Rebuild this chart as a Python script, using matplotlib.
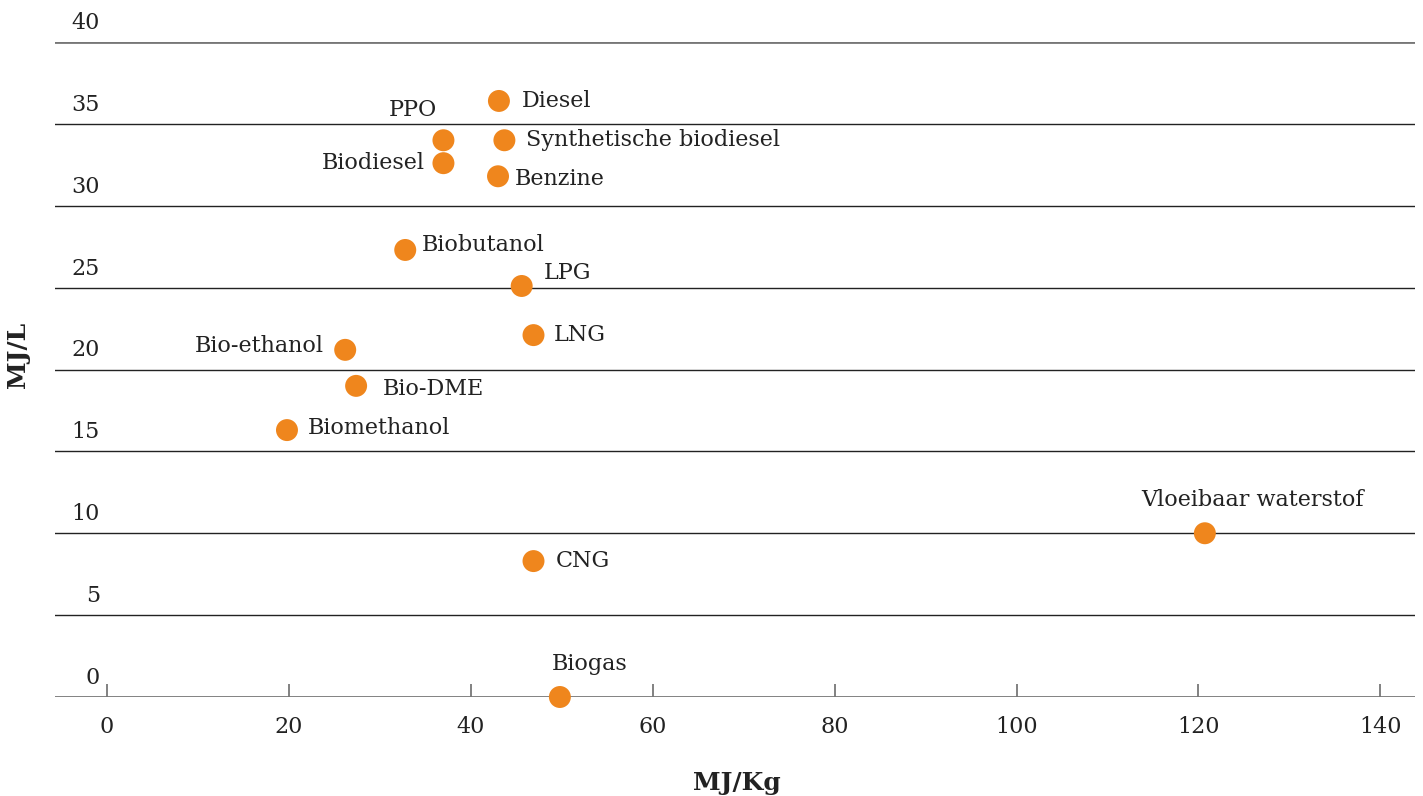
import matplotlib.pyplot as plt

# energy density per fuel
fuels = ["Diesel", "PPO", "Synthetische biodiesel", "Biodiesel", "Benzine",
         "Biobutanol", "LPG", "LNG", "Bio-ethanol", "Bio-DME", "Biomethanol",
         "Vloeibaar waterstof", "CNG", "Biogas"]
mj_kg = [43.1, 37.0, 43.7, 37.0, 43.0, 32.8, 45.6, 46.9, 26.2, 27.4, 19.8,
         120.7, 46.9, 49.8]
mj_l = [36.4, 34.0, 34.0, 32.6, 31.8, 27.3, 25.1, 22.1, 21.2, 19.0, 16.3,
        10.0, 8.3, 0.0]

x_ticks = [0, 20, 40, 60, 80, 100, 120, 140]
y_ticks = [0, 5, 10, 15, 20, 25, 30, 35, 40]

# label placement: (dx px, dy px, ha)
label_pos = {
    "Diesel": (23, 0, "left"),
    "PPO": (-31, 30, "center"),
    "Synthetische biodiesel": (22, 0, "left"),
    "Biodiesel": (-19, 0, "right"),
    "Benzine": (17, -3, "left"),
    "Biobutanol": (17, 5, "left"),
    "LPG": (22, 13, "left"),
    "LNG": (20, 0, "left"),
    "Bio-ethanol": (-21, 4, "right"),
    "Bio-DME": (27, -3, "left"),
    "Biomethanol": (21, 2, "left"),
    "Vloeibaar waterstof": (48, 33, "center"),
    "CNG": (22, 0, "left"),
    "Biogas": (30, 33, "center"),
}

orange = "#EF861D"
txt = "#222222"
font = "DejaVu Serif"
fs = 16

fig = plt.figure(figsize=(14.23, 7.96), dpi=100)
ax = fig.add_axes([55 / 1423, 1 - 697 / 796, 1360 / 1423, 655 / 796])

ax.set_xlim(-5.7, 143.8)
ax.set_ylim(0, 40)

for v in y_ticks:
    if v in (0, 40):
        ax.axhline(v, color="#777777", lw=2.0, zorder=1)
    else:
        ax.axhline(v, color="#222222", lw=1.0, zorder=1)
    ax.annotate(str(v), xy=(45 / 1360, v), xycoords=("axes fraction", "data"),
                xytext=(0, 8), textcoords="offset pixels", ha="right",
                va="bottom", fontsize=fs, color=txt, family=font)

for s in ax.spines.values():
    s.set_visible(False)

ax.set_yticks([])
ax.set_xticks(x_ticks)
ax.set_xticklabels([str(t) for t in x_ticks], fontsize=fs, color=txt,
                   family=font)
ax.tick_params(axis="x", direction="in", length=9.5, width=1.3,
               color="#777777", pad=14)

ax.scatter(mj_kg, mj_l, s=250, color=orange, edgecolors="none", zorder=3,
           clip_on=False)

for name, xv, yv in zip(fuels, mj_kg, mj_l):
    dx, dy, ha = label_pos[name]
    ax.annotate(name, xy=(xv, yv), xytext=(dx, dy), textcoords="offset pixels",
                ha=ha, va="center", fontsize=fs, color=txt, family=font)

fig.text(737 / 1423, 1 - 783 / 796, "MJ/Kg", ha="center", va="center",
         fontsize=18, fontweight="bold", color=txt, family=font)
fig.text(18 / 1423, 1 - 355 / 796, "MJ/L", ha="center", va="center",
         rotation=90, fontsize=18, fontweight="bold", color=txt, family=font)

fig.savefig("out.png", dpi=100)
